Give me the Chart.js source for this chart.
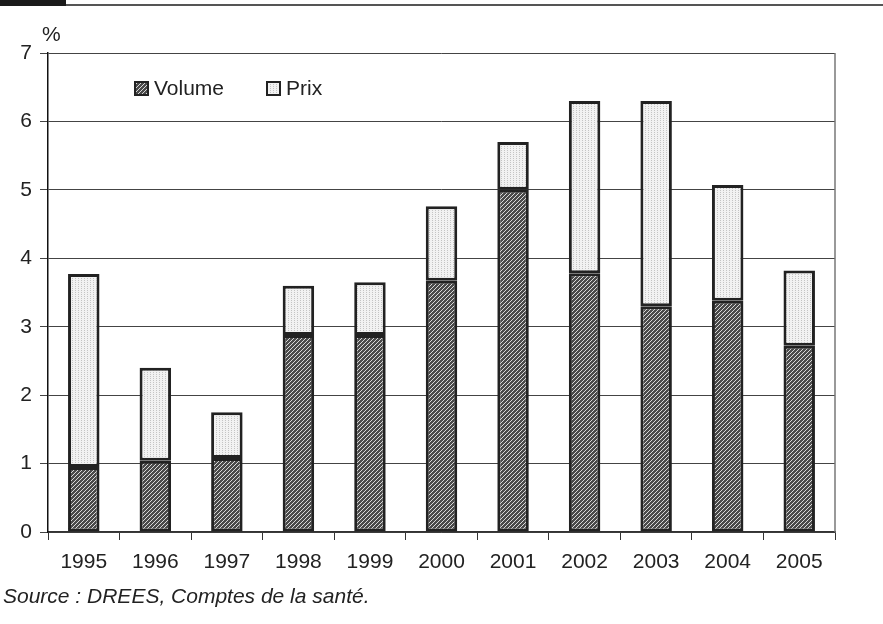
<!DOCTYPE html>
<html>
<head>
<meta charset="utf-8">
<script src="https://cdn.jsdelivr.net/npm/chart.js@4"></script>
<style>
  body { margin: 0; background: #fff; }
  #wrap { position: relative; width: 883px; height: 624px; }
  #topbar { position: absolute; left: 0; top: 0; width: 66px; height: 6px; background: #1a1a1a; }
  #topline { position: absolute; left: 66px; top: 4px; width: 817px; height: 2px; background: #555; }
  #source { position: absolute; left: 3px; top: 584px; font: italic 21px "Liberation Sans", Arial, sans-serif; color: #222; }
</style>
</head>
<body>
<div id="wrap">
  <div id="topbar"></div>
  <div id="topline"></div>
  <canvas id="barChart" width="883" height="624"></canvas>
  <div id="source">Source : DREES, Comptes de la santé.</div>
</div>
<script>
// Données
const annees = ['1995', '1996', '1997', '1998', '1999', '2000', '2001', '2002', '2003', '2004', '2005'];
const volume = [0.95, 1.04, 1.08, 2.88, 2.88, 3.67, 5.0, 3.78, 3.30, 3.38, 2.72];
const prix = [2.82, 1.36, 0.67, 0.72, 0.77, 1.09, 0.70, 2.52, 3.00, 1.69, 1.10];
const yTicks = [0, 1, 2, 3, 4, 5, 6, 7];

const police = '"Liberation Sans", Arial, sans-serif';

// Motif hachuré pour le volume
function motifHachure() {
    const c = document.createElement('canvas');
    c.width = 4; c.height = 4;
    const g = c.getContext('2d');
    g.fillStyle = '#4a4a4a';
    g.fillRect(0, 0, 4, 4);
    g.strokeStyle = '#d8d8d8';
    g.lineWidth = 1;
    g.beginPath();
    g.moveTo(0, 4); g.lineTo(4, 0);
    g.moveTo(-1, 1); g.lineTo(1, -1);
    g.moveTo(3, 5); g.lineTo(5, 3);
    g.stroke();
    return g.createPattern(c, 'repeat');
}

// Motif pointillé pour les prix
function motifPoints() {
    const c = document.createElement('canvas');
    c.width = 3; c.height = 2;
    const g = c.getContext('2d');
    g.fillStyle = '#f2f2f2';
    g.fillRect(0, 0, 3, 2);
    g.fillStyle = '#c4c4c4';
    g.fillRect(0, 0, 1, 1);
    return g.createPattern(c, 'repeat');
}

const hachure = motifHachure();
const points = motifPoints();

// Légende, "%" et bordure droite dessinés à la main
const decor = {
    id: 'decor',
    afterDraw(chart) {
        const ctx = chart.ctx;
        const area = chart.chartArea;
        ctx.save();
        ctx.strokeStyle = '#777';
        ctx.lineWidth = 1.5;
        ctx.beginPath();
        ctx.moveTo(area.right, area.top);
        ctx.lineTo(area.right, area.bottom);
        ctx.stroke();

        ctx.fillStyle = '#222';
        ctx.font = '21px ' + police;
        ctx.textBaseline = 'middle';
        ctx.fillText('%', 42, 35);

        const items = [
            { x: 135, fill: hachure, label: chart.data.datasets[0].label },
            { x: 267, fill: points, label: chart.data.datasets[1].label }
        ];
        items.forEach(it => {
            ctx.fillStyle = it.fill;
            ctx.fillRect(it.x, 82, 13, 13);
            ctx.strokeStyle = '#222';
            ctx.lineWidth = 2;
            ctx.strokeRect(it.x, 82, 13, 13);
            ctx.fillStyle = '#222';
            ctx.fillText(it.label, it.x + 19, 89);
        });
        ctx.restore();
    }
};

const ctx = document.getElementById('barChart').getContext('2d');
const barChart = new Chart(ctx, {
    type: 'bar',
    data: {
        labels: annees,
        datasets: [
            {
                label: 'Volume',
                data: volume,
                backgroundColor: hachure,
                borderColor: '#222',
                borderWidth: 3,
                borderSkipped: false
            },
            {
                label: 'Prix',
                data: prix,
                backgroundColor: points,
                borderColor: '#222',
                borderWidth: 3,
                borderSkipped: false
            }
        ]
    },
    plugins: [decor],
    options: {
        responsive: false,
        animation: false,
        barPercentage: 0.44,
        categoryPercentage: 1,
        layout: {
            padding: { left: 0, top: 53, right: 48, bottom: 42 }
        },
        plugins: {
            legend: { display: false },
            tooltip: { enabled: false }
        },
        scales: {
            x: {
                stacked: true,
                offset: true,
                afterFit: s => { s.height = 50; },
                grid: {
                    offset: true,
                    drawOnChartArea: false,
                    color: '#333',
                    tickLength: 8
                },
                border: { color: '#333', width: 1.5 },
                ticks: {
                    color: '#222',
                    padding: 10,
                    font: { family: police, size: 21 }
                }
            },
            y: {
                stacked: true,
                min: 0,
                max: 7,
                afterFit: s => { s.width = 48; },
                afterBuildTicks: s => { s.ticks = yTicks.map(v => ({ value: v })); },
                grid: {
                    color: '#444',
                    lineWidth: 1,
                    tickLength: 8
                },
                border: { color: '#111', width: 1.5 },
                ticks: {
                    color: '#222',
                    padding: 8,
                    font: { family: police, size: 21 }
                }
            }
        }
    }
});
</script>
</body>
</html>
